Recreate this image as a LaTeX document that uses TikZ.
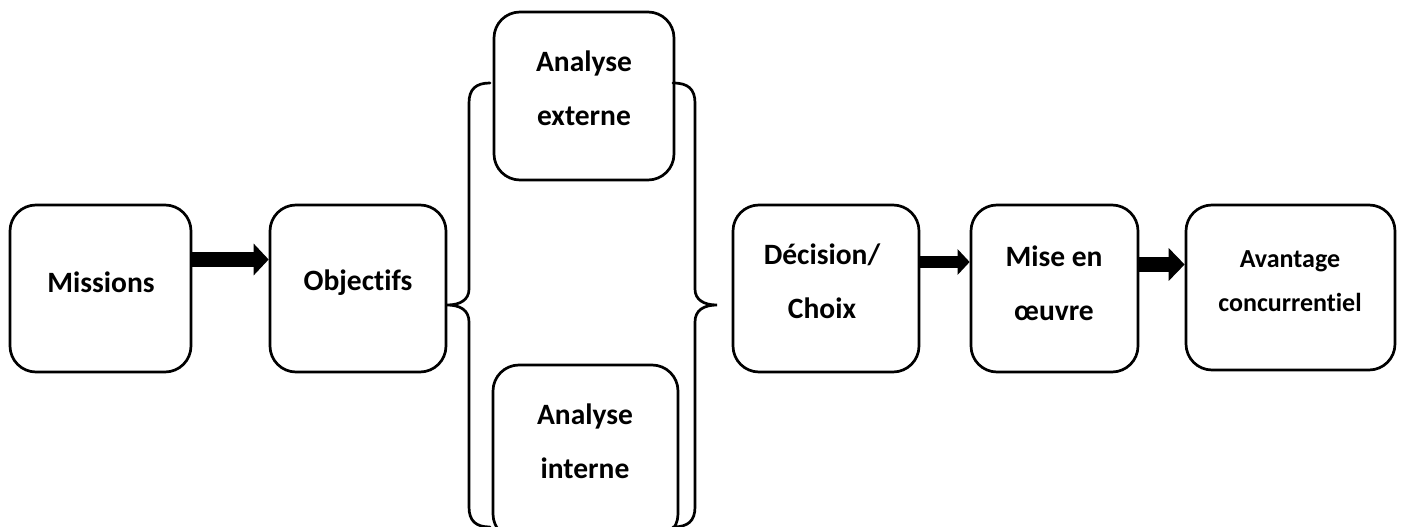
\documentclass[tikz,border=0pt]{standalone}
\usepackage{fontspec}
\setmainfont{Carlito}[Ligatures=NoCommon]
\usetikzlibrary{arrows.meta}
\begin{document}
\begin{tikzpicture}[x=1pt,y=-1pt,
  box/.style={draw=black, line width=2.7pt, rounded corners=26pt, rectangle, inner sep=0pt},
  lbl/.style={font=\bfseries\fontsize{29.5}{54}\selectfont, align=center, inner sep=0pt},
  lbls/.style={font=\bfseries\fontsize{26}{44}\selectfont, align=center, inner sep=0pt},
  brace/.style={draw=black, line width=2.7pt, line cap=round},
]
\useasboundingbox (0,0) rectangle (1403,527);
\begin{scope}
\clip (0,0) rectangle (1403,527);
% boxes
\node[box, minimum width=181pt, minimum height=167pt] (m)  at (100.5,288.5) {};
\node[box, minimum width=176pt, minimum height=167pt] (o)  at (358,288.5) {};
\node[box, minimum width=180pt, minimum height=168pt] (ae) at (584,96) {};
\node[box, minimum width=185pt, minimum height=175pt] (ai) at (585.5,452.5) {};
\node[box, minimum width=186pt, minimum height=167pt] (d)  at (826,288.5) {};
\node[box, minimum width=167pt, minimum height=167pt] (mo) at (1054.5,288.5) {};
\node[box, minimum width=209pt, minimum height=165pt] (av) at (1290.5,287.5) {};
% labels
\node[lbl] (mt)  at (101,282) {Missions};
\node[lbl] (ot)  at (358,283) {Objectifs};
\node[lbl] (aet) at (584,88) {Analyse\\externe};
\node[lbl] (ait) at (585,441) {Analyse\\interne};
\node[lbl] (dt)  at (822,281) {Décision/\\Choix};
\node[lbl] (mot) at (1054,283) {Mise en\\œuvre};
\node[lbls] (avt) at (1290,281) {Avantage\\concurrentiel};
% arrows
\draw[line width=15pt, -{Triangle[length=15pt,width=31pt]}] (m.east |- 0,259.5) -- (o.west |- 0,259.5);
\draw[line width=11.5pt, -{Triangle[length=12pt,width=25pt]}] (d.east |- 0,262) -- (mo.west |- 0,262);
\draw[line width=15pt, -{Triangle[length=16pt,width=32pt]}] (mo.east |- 0,264.5) -- (av.west |- 0,264.5);
% braces
\draw[brace] (490,83) .. controls (476,83) and (469,89) .. (469,103) -- (469,289)
  .. controls (469,300) and (460,305) .. (447,305)
  .. controls (460,305) and (469,310) .. (469,322) -- (469,507)
  .. controls (469,521) and (476,527) .. (490,527);
\draw[brace] (673,83) .. controls (688,83) and (695,89) .. (695,103) -- (695,289)
  .. controls (695,300) and (704,305) .. (717,305)
  .. controls (704,305) and (695,310) .. (695,322) -- (695,507)
  .. controls (695,521) and (688,527) .. (673,527);
\end{scope}
\end{tikzpicture}
\end{document}
